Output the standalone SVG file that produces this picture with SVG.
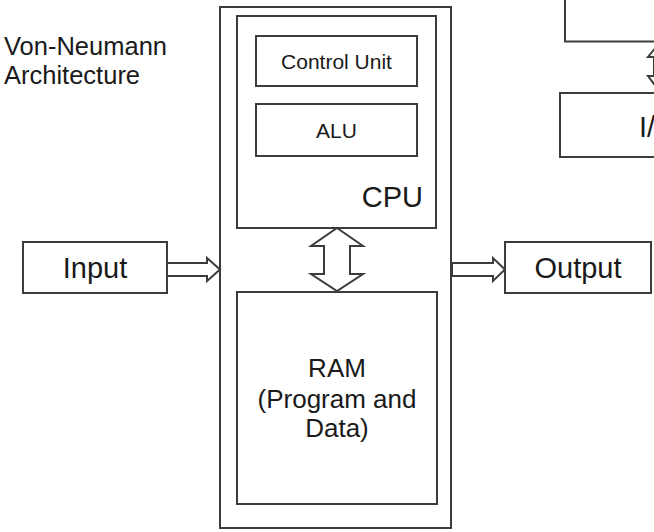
<svg xmlns="http://www.w3.org/2000/svg" width="654" height="532" viewBox="0 0 654 532">
<style>
.box{fill:#fff;stroke:#3c3c3c;stroke-width:2}
.arr{fill:#fff;stroke:#3c3c3c;stroke-width:2;stroke-linejoin:miter}
text{font-family:"Liberation Sans",Arial,sans-serif;fill:#1a1a1a}
.big{font-size:29px;text-anchor:middle}
.mid{font-size:26px;text-anchor:middle}
.small{font-size:21px;text-anchor:middle}
</style>
<rect width="654" height="532" fill="#fff"/>
<g id="title">
<text x="4" y="55" font-size="25.5">Von-Neumann</text>
<text x="4" y="84" font-size="25.5">Architecture</text>
</g>
<g id="computer">
<rect class="box" x="220" y="7" width="231" height="521"/>
</g>
<g id="cpu">
<rect class="box" x="237" y="16" width="199" height="212"/>
<text x="423" y="207" font-size="29" text-anchor="end">CPU</text>
</g>
<g id="control-unit">
<rect class="box" x="256" y="36" width="161" height="50"/>
<text class="small" x="336.5" y="69">Control Unit</text>
</g>
<g id="alu">
<rect class="box" x="256" y="104" width="161" height="52"/>
<text class="small" x="336.5" y="138">ALU</text>
</g>
<g id="ram">
<rect class="box" x="237" y="292" width="200" height="212"/>
<text class="mid" x="337" y="377">RAM</text>
<text class="mid" x="337" y="408">(Program and</text>
<text class="mid" x="337" y="437">Data)</text>
</g>
<g id="input">
<rect class="box" x="23" y="242" width="144" height="51"/>
<text class="big" x="95" y="278">Input</text>
</g>
<g id="output">
<rect class="box" x="505" y="242" width="146" height="51"/>
<text class="big" x="578" y="278">Output</text>
</g>
<g id="top-right-box">
<rect class="box" x="565" y="-5" width="100" height="46.5"/>
</g>
<g id="io">
<rect class="box" x="560" y="93" width="100" height="64"/>
<text x="639" y="137" font-size="29">I/O</text>
</g>
<g id="connectors">
<polygon class="arr" points="167,263 207,263 207,258 220,269.5 207,281 207,276 167,276"/>
<polygon class="arr" points="452,263 493,263 493,258 505,269.5 493,281 493,276 452,276"/>
<polygon class="arr" points="337,228 363,246 350,246 350,274 363,274 337,291 311,274 324,274 324,246 311,246"/>
<polygon class="arr" points="660,42 672,57 666,57 666,76 672,76 660,92 648,76 654,76 654,57 648,57"/>
</g>
</svg>
